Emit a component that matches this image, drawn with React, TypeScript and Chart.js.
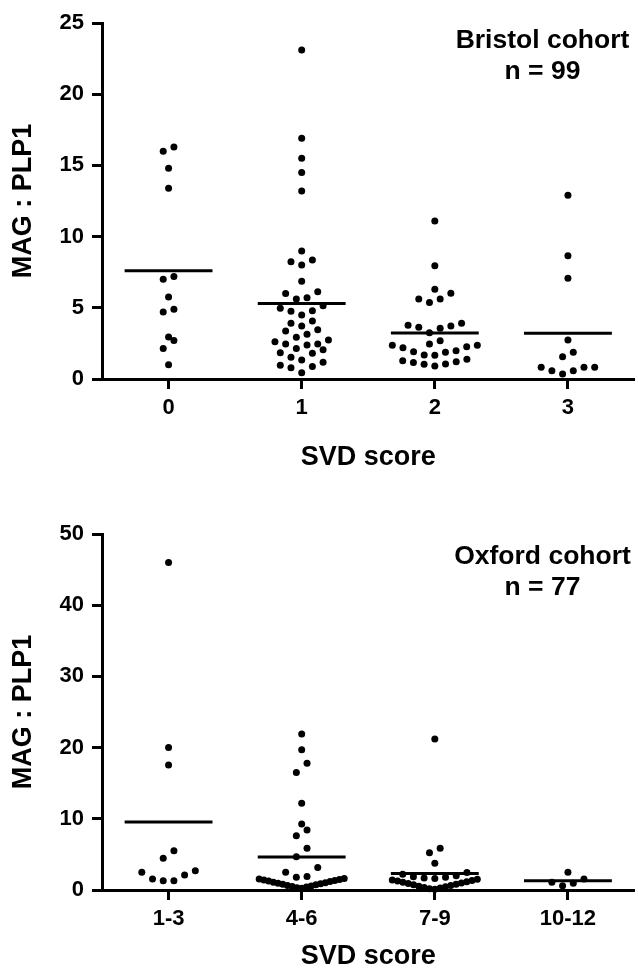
import React, { useEffect, useRef } from 'react';
import { Chart, registerables } from 'chart.js';

Chart.register(...registerables);

// ---------------- DATA ----------------
const TOP_CATS = ['0', '1', '2', '3'];
const TOP_SVD0 = [16.0, 16.3, 14.8, 13.4, 7.2, 7.0, 5.76, 4.9, 4.7, 2.7, 2.95, 2.15, 1.0];
const TOP_SVD1 = [23.1, 16.9, 15.5, 14.5, 13.2, 8.99, 8.36, 8.24, 8.0, 6.86, 6.13, 6.0, 5.71, 5.62, 5.15, 4.96, 4.8, 4.75, 4.49, 4.07, 3.91, 3.72, 3.46, 3.37, 3.14, 2.93, 2.74, 2.62, 2.46, 2.46, 2.39, 2.15, 2.05, 1.85, 1.8, 1.52, 1.33, 1.17, 0.96, 0.87, 0.79, 0.44];
const TOP_SVD2 = [11.1, 7.96, 6.3, 6.02, 5.62, 5.62, 5.38, 3.91, 3.77, 3.72, 3.63, 3.56, 3.25, 2.69, 2.46, 2.37, 2.37, 2.27, 2.2, 1.99, 1.92, 1.87, 1.69, 1.66, 1.38, 1.29, 1.22, 1.15, 1.05, 1.03, 0.91];
const TOP_SVD3 = [12.9, 8.66, 7.07, 2.74, 1.87, 1.57, 0.82, 0.82, 0.82, 0.58, 0.58, 0.35];
const TOP_MEANS = [7.6, 5.31, 3.23, 3.21];

const BOT_CATS = ['1-3', '4-6', '7-9', '10-12'];
const BOT_SVD13 = [46.0, 20.0, 17.55, 5.5, 4.45, 2.7, 2.5, 2.1, 1.55, 1.3, 1.3];
const BOT_SVD46 = [21.9, 19.7, 17.8, 16.5, 12.2, 9.27, 8.43, 7.63, 5.85, 4.68, 3.17, 2.48, 1.9, 1.78,
  1.62, 1.55, 1.49, 1.41, 1.33, 1.27, 1.18, 1.1, 1.03, 0.95, 0.88, 0.8, 0.72, 0.64, 0.57, 0.49, 0.41, 0.33, 0.25];
const BOT_SVD79 = [21.2, 5.85, 5.24, 3.74, 2.47, 2.2, 2.0, 1.85, 1.78, 1.7, 1.62,
  1.5, 1.42, 1.33, 1.25, 1.16, 1.08, 0.98, 0.9, 0.8, 0.72, 0.62, 0.54, 0.45, 0.36, 0.27, 0.18, 0.1];
const BOT_SVD1012 = [2.48, 1.54, 1.08, 0.94, 0.6];
const BOT_MEANS = [9.55, 4.63, 2.33, 1.31];

// ---------------- STYLE ----------------
const FONT_FAMILY = '"Liberation Sans", Arial, Helvetica, sans-serif';
const DOT_STEP_PX = 10.7;
const ROW_PX = 10.5;
const MAX_SPAN_PX = 85;
const MEAN_HALF = 0.33;

type Pt = { x: number; y: number | null };

function layoutSwarm(chart: any, groups: number[][]): Pt[] {
  const xs = chart.scales.x;
  const ys = chart.scales.y;
  const unitPx = xs.getPixelForValue(1) - xs.getPixelForValue(0);
  const pts: Pt[] = [];
  groups.forEach((vals, ci) => {
    const sorted = [...vals].sort((a, b) => a - b);
    let i = 0;
    while (i < sorted.length) {
      const startPx = ys.getPixelForValue(sorted[i]);
      let j = i;
      while (j < sorted.length && startPx - ys.getPixelForValue(sorted[j]) < ROW_PX) j++;
      const row = sorted.slice(i, j);
      const n = row.length;
      const step = n > 1 ? Math.min(DOT_STEP_PX, MAX_SPAN_PX / (n - 1)) : 0;
      row.forEach((v, k) => {
        let slot: number;
        if (n % 2 === 1) {
          const m = Math.ceil(k / 2);
          slot = k === 0 ? 0 : k % 2 === 1 ? -m : m;
        } else {
          const m = Math.floor(k / 2) + 0.5;
          slot = k % 2 === 0 ? -m : m;
        }
        pts.push({ x: ci + (slot * step) / unitPx, y: v });
      });
      i = j;
    }
  });
  return pts;
}

interface PanelProps {
  cats: string[];
  groups: number[][];
  means: number[];
  yMax: number;
  yStep: number;
  label1: string;
  label2: string;
  top: number;
  height: number;
  padTop: number;
  xAxisH: number;
  xTitlePadB: number;
  labelDy1: number;
  labelDy2: number;
}

function Panel(p: PanelProps) {
  const ref = useRef<HTMLCanvasElement>(null);
  useEffect(() => {
    const canvas = ref.current!;
    const base: Pt[] = [];
    p.groups.forEach((vals, ci) => vals.forEach((v) => base.push({ x: ci, y: v })));
    const meanData: Pt[] = [];
    p.means.forEach((m, i) => {
      meanData.push({ x: i - MEAN_HALF, y: m }, { x: i + MEAN_HALF, y: m }, { x: i + 0.5, y: null });
    });
    const annot = {
      id: 'annot',
      afterDraw(chart: any) {
        const ctx = chart.ctx;
        const a = chart.chartArea;
        ctx.save();
        ctx.font = `bold 26.5px ${FONT_FAMILY}`;
        ctx.fillStyle = '#000';
        ctx.textAlign = 'center';
        ctx.textBaseline = 'alphabetic';
        const cx = a.right - 92;
        ctx.fillText(p.label1, cx, a.top + p.labelDy1);
        ctx.fillText(p.label2, cx, a.top + p.labelDy2);
        ctx.restore();
      },
    };
    const tickFont = { family: FONT_FAMILY, size: 22, weight: 'bold' as const };
    const titleFont = { family: FONT_FAMILY, size: 27, weight: 'bold' as const };
    const chart = new Chart(canvas, {
      type: 'scatter',
      data: {
        datasets: [
          {
            type: 'line',
            data: meanData as any,
            borderColor: '#000',
            borderWidth: 3,
            borderCapStyle: 'butt',
            pointRadius: 0,
            spanGaps: false,
            clip: false as any,
            order: 0,
          } as any,
          {
            type: 'scatter',
            data: base as any,
            pointRadius: 3.5,
            pointHoverRadius: 3.5,
            backgroundColor: '#000',
            borderWidth: 0,
            clip: false as any,
            order: 1,
          } as any,
        ],
      },
      options: {
        responsive: false,
        animation: false,
        devicePixelRatio: 1,
        layout: { padding: { top: p.padTop, right: 1, left: 0, bottom: 0 } },
        plugins: { legend: { display: false }, tooltip: { enabled: false } },
        scales: {
          x: {
            type: 'linear',
            min: -0.5,
            max: p.cats.length - 0.5,
            afterBuildTicks: (axis: any) => {
              axis.ticks = p.cats.map((_, i) => ({ value: i }));
            },
            afterFit: (s: any) => {
              s.height = p.xAxisH;
            },
            ticks: {
              callback: (v: any) => p.cats[Math.round(Number(v))] ?? '',
              font: tickFont,
              color: '#000',
              padding: 6,
              autoSkip: false,
              maxRotation: 0,
            },
            grid: { display: true, drawOnChartArea: false, drawTicks: true, tickLength: 10, tickWidth: 3, tickColor: '#000' },
            border: { display: true, width: 3, color: '#000' },
            title: { display: true, text: 'SVD score', font: titleFont, color: '#000', padding: { top: 0, bottom: p.xTitlePadB } },
          },
          y: {
            type: 'linear',
            min: 0,
            max: p.yMax,
            afterFit: (s: any) => {
              s.width = 102;
            },
            ticks: { stepSize: p.yStep, font: tickFont, color: '#000', padding: 8 },
            grid: { display: true, drawOnChartArea: false, drawTicks: true, tickLength: 10, tickWidth: 3, tickColor: '#000' },
            border: { display: true, width: 3, color: '#000' },
            title: { display: true, text: 'MAG : PLP1', font: titleFont, color: '#000', padding: { top: 7, bottom: 0 } },
          },
        },
      } as any,
      plugins: [annot],
    });
    chart.data.datasets[1].data = layoutSwarm(chart, p.groups) as any;
    chart.update();
    return () => chart.destroy();
  }, []);
  return (
    <div style={{ position: 'absolute', left: 0, top: p.top, width: 638, height: p.height }}>
      <canvas ref={ref} width={638} height={p.height} style={{ display: 'block' }} />
    </div>
  );
}

export default function App() {
  return (
    <div style={{ position: 'absolute', left: 0, top: 0, width: 638, height: 975, background: '#fff' }}>
      <Panel
        cats={TOP_CATS}
        groups={[TOP_SVD0, TOP_SVD1, TOP_SVD2, TOP_SVD3]}
        means={TOP_MEANS}
        yMax={25}
        yStep={5}
        label1="Bristol cohort"
        label2="n = 99"
        top={0}
        height={490}
        padTop={23}
        xAxisH={111}
        xTitlePadB={16}
        labelDy1={25}
        labelDy2={56}
      />
      <Panel
        cats={BOT_CATS}
        groups={[BOT_SVD13, BOT_SVD46, BOT_SVD79, BOT_SVD1012]}
        means={BOT_MEANS}
        yMax={50}
        yStep={10}
        label1="Oxford cohort"
        label2="n = 77"
        top={490}
        height={485}
        padTop={44}
        xAxisH={85}
        xTitlePadB={2}
        labelDy1={30}
        labelDy2={61}
      />
    </div>
  );
}
